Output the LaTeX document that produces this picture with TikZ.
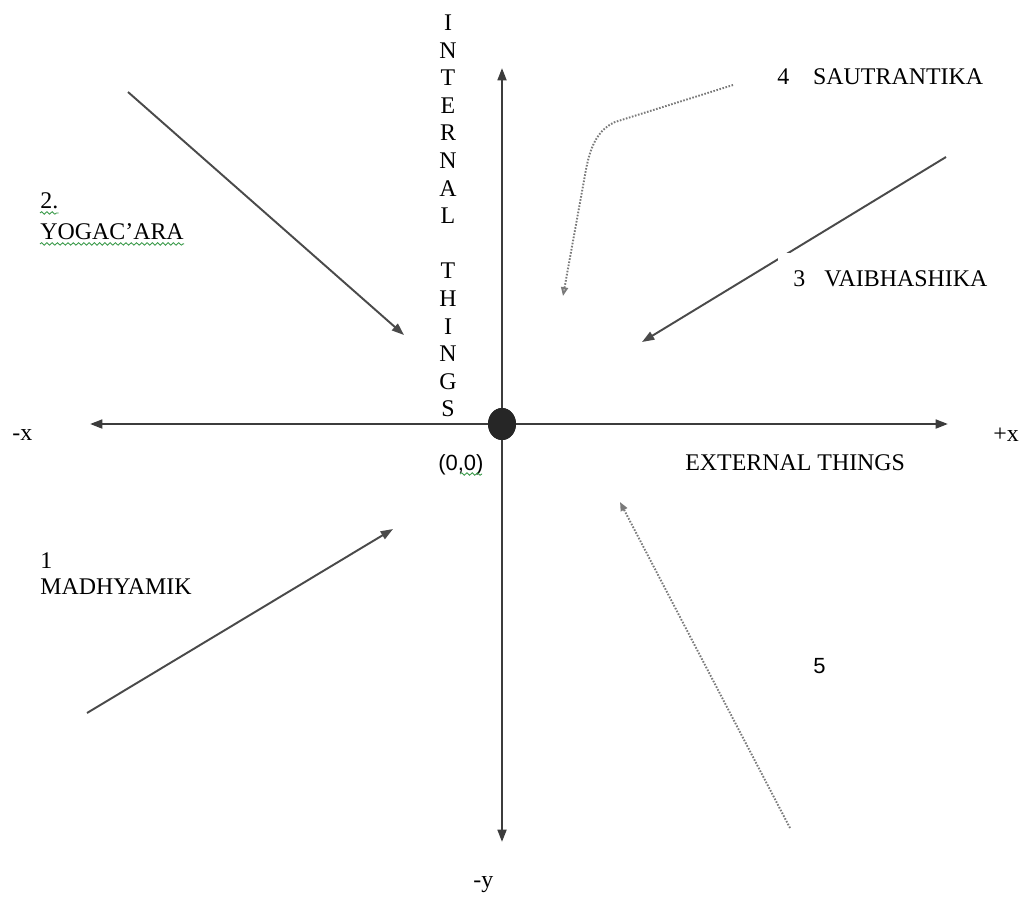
\documentclass[tikz,border=0pt]{standalone}
\usepackage{fontspec}
\setmainfont{Liberation Serif}
\newfontfamily\sanslabel{Liberation Sans}
\usetikzlibrary{arrows.meta, shapes.geometric, decorations.pathmorphing}
\definecolor{axisgray}{HTML}{3C3C3C}
\definecolor{arrowgray}{HTML}{4A4A4A}
\definecolor{dotgray}{HTML}{7A7A7A}
\definecolor{spellgreen}{HTML}{3A9A4A}
\tikzset{
    axis/.style={draw=axisgray, line width=1.3pt, -{Triangle[length=7pt,width=5pt]}},
    solidarrow/.style={draw=arrowgray, line width=1.1pt, -{Triangle[length=7pt,width=5pt]}},
    dottedarrow/.style={draw=dotgray, line width=1.1pt, dash pattern=on 0.9pt off 0.9pt},
    lbl/.style={anchor=west, inner sep=0pt, font=\fontsize{13.6}{16}\selectfont},
    % spell-check marks under some words
    squiggle/.style={draw=spellgreen, line width=0.5pt, decorate,
        decoration={snake, amplitude=0.7pt, segment length=3pt}},
}

\begin{document}
\begin{tikzpicture}[x=0.02cm, y=-0.02cm]
    \useasboundingbox (0,0) rectangle (1026,900);

    % axes
    \node[ellipse, fill=black!85, minimum width=0.56cm, minimum height=0.64cm, inner sep=0pt] (origin) at (502,424) {};
    \coordinate (xneg) at (90,424);
    \coordinate (xpos) at (948,424);
    \coordinate (ypos) at (502,68);
    \coordinate (yneg) at (502,842);
    \draw[axis] (origin) -- (xneg);
    \draw[axis] (origin) -- (xpos);
    \draw[axis] (origin) -- (ypos);
    \draw[axis] (origin) -- (yneg);
    \node[ellipse, fill=black!85, minimum width=0.56cm, minimum height=0.64cm, inner sep=0pt] at (origin) {};

    \node[lbl] (xneglabel) at (12,435) {-x};
    \node[lbl] (xposlabel) at (993,435) {+x};
    \node[lbl] (yneglabel) at (473,885) {-y};
    \node[lbl, font=\sanslabel\fontsize{12.5}{15}\selectfont] (originlabel) at (438,465) {(0,0)};
    \draw[squiggle] (460,474) -- (482,474);
    \node[lbl] (extlabel) at (685,463) {EXTERNAL THINGS};
    \node[inner sep=0pt, align=center, font=\fontsize{13.6}{15.7}\selectfont] (intlabel) at (448,216)
        {I\\N\\T\\E\\R\\N\\A\\L\\[15.7pt]T\\H\\I\\N\\G\\S};

    % 1 madhyamik
    \coordinate (m1a) at (87,713);
    \coordinate (m1b) at (393,529);
    \draw[solidarrow] (m1a) -- (m1b);
    \node[lbl] (onelabel) at (40,561) {1};
    \node[lbl] (madhyamik) at (40,587) {MADHYAMIK};

    % 2 yogacara
    \coordinate (y2a) at (128,92);
    \coordinate (y2b) at (404,335);
    \draw[solidarrow] (y2a) -- (y2b);
    \node[lbl] (twolabel) at (40,201) {2.};
    \node[lbl] (yogacara) at (40,232) {YOGAC’ARA};
    \draw[squiggle] ([yshift=-2pt]twolabel.south west) -- ([yshift=-2pt]twolabel.south east);
    \draw[squiggle] ([yshift=-2pt]yogacara.south west) -- ([yshift=-2pt]yogacara.south east);

    % 3 vaibhashika (its box hides a bit of the arrow)
    \coordinate (v3a) at (946,157);
    \coordinate (v3b) at (642,342);
    \draw[solidarrow] (v3a) -- (v3b);
    \node[lbl, fill=white, inner xsep=0.3cm, inner ysep=0.36cm] (vaibhashika) at (778,279) {3\hspace{0.8em}VAIBHASHIKA};

    % 4 sautrantika
    \coordinate (s4a) at (733,85);
    \coordinate (s4b) at (563,296);
    \draw[dottedarrow, -{Triangle[open, length=5pt, width=4pt]}] (s4a) -- (615,122)
        .. controls (598,130) and (590,145) .. (585,175) -- (s4b);
    \node[lbl] (sautrantika) at (777,77) {4\quad SAUTRANTIKA};

    % 5
    \coordinate (f5a) at (790,828);
    \coordinate (f5b) at (620,502);
    \draw[dottedarrow, -{Triangle[length=5pt, width=4pt]}] (f5a) -- (f5b);
    \node[lbl, font=\sanslabel\fontsize{12.5}{15}\selectfont] (fivelabel) at (813,666) {5};
\end{tikzpicture}
\end{document}
